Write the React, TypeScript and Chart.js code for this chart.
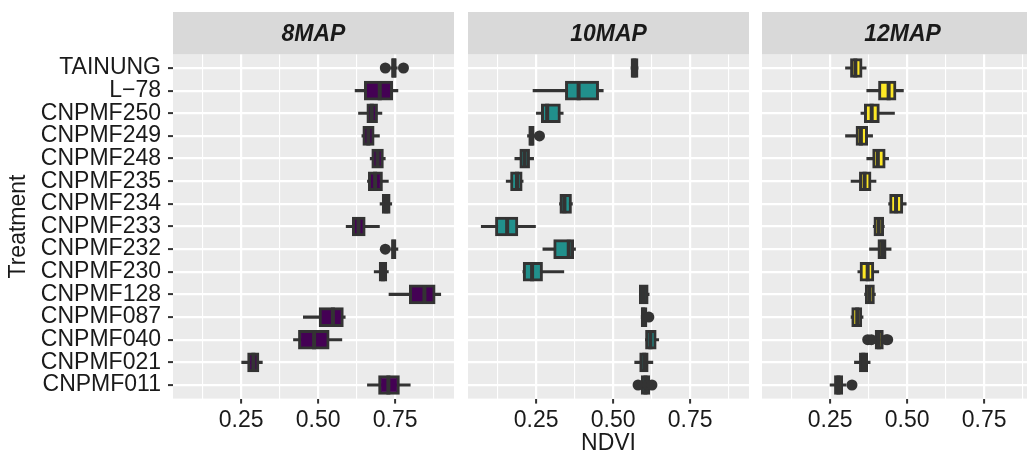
import React, { useEffect, useRef } from "react";
import { Chart, registerables } from "chart.js";

Chart.register(...registerables);
Chart.defaults.font.family = '"Liberation Sans", Arial, Helvetica, sans-serif';

// ---------- DATA ----------
const treatments = [
  "TAINUNG", "L\u221278", "CNPMF250", "CNPMF249", "CNPMF248", "CNPMF235", "CNPMF234",
  "CNPMF233", "CNPMF232", "CNPMF230", "CNPMF128", "CNPMF087", "CNPMF040", "CNPMF021", "CNPMF011",
];

const panelTitles = ["8MAP", "10MAP", "12MAP"];

// [lower whisker, Q1, median, Q3, upper whisker] per treatment (same order as treatments)
const box8MAP = [
  [0.735, 0.738, 0.746, 0.754, 0.757],
  [0.620, 0.650, 0.700, 0.742, 0.759],
  [0.631, 0.658, 0.674, 0.693, 0.707],
  [0.642, 0.645, 0.663, 0.682, 0.699],
  [0.669, 0.674, 0.693, 0.712, 0.718],
  [0.660, 0.663, 0.685, 0.709, 0.728],
  [0.701, 0.708, 0.721, 0.734, 0.739],
  [0.591, 0.611, 0.631, 0.653, 0.699],
  [0.736, 0.738, 0.745, 0.753, 0.759],
  [0.682, 0.698, 0.710, 0.723, 0.728],
  [0.730, 0.796, 0.845, 0.880, 0.898],
  [0.452, 0.503, 0.548, 0.582, 0.588],
  [0.420, 0.436, 0.487, 0.536, 0.577],
  [0.252, 0.271, 0.290, 0.308, 0.319],
  [0.660, 0.696, 0.728, 0.764, 0.799],
];
const box10MAP = [
  [0.558, 0.558, 0.569, 0.581, 0.581],
  [0.240, 0.345, 0.388, 0.453, 0.468],
  [0.251, 0.267, 0.286, 0.329, 0.338],
  [0.222, 0.226, 0.235, 0.244, 0.246],
  [0.181, 0.197, 0.213, 0.229, 0.242],
  [0.153, 0.167, 0.188, 0.205, 0.208],
  [0.326, 0.327, 0.342, 0.365, 0.368],
  [0.072, 0.118, 0.156, 0.191, 0.248],
  [0.272, 0.307, 0.356, 0.372, 0.378],
  [0.207, 0.208, 0.237, 0.271, 0.340],
  [0.585, 0.585, 0.600, 0.614, 0.617],
  [0.591, 0.591, 0.598, 0.610, 0.610],
  [0.605, 0.605, 0.621, 0.640, 0.648],
  [0.570, 0.586, 0.601, 0.614, 0.629],
  [0.589, 0.591, 0.605, 0.619, 0.621],
];
const box12MAP = [
  [0.300, 0.316, 0.332, 0.354, 0.367],
  [0.369, 0.407, 0.440, 0.464, 0.488],
  [0.350, 0.361, 0.385, 0.410, 0.459],
  [0.300, 0.334, 0.350, 0.372, 0.388],
  [0.369, 0.388, 0.405, 0.429, 0.440],
  [0.318, 0.345, 0.362, 0.383, 0.399],
  [0.440, 0.443, 0.464, 0.486, 0.497],
  [0.390, 0.392, 0.408, 0.424, 0.426],
  [0.378, 0.405, 0.419, 0.432, 0.448],
  [0.340, 0.347, 0.372, 0.392, 0.408],
  [0.362, 0.364, 0.378, 0.394, 0.397],
  [0.318, 0.320, 0.338, 0.353, 0.357],
  [0.394, 0.396, 0.408, 0.423, 0.425],
  [0.329, 0.345, 0.358, 0.372, 0.380],
  [0.250, 0.264, 0.277, 0.291, 0.302],
];

// outliers: [treatment index, NDVI]
const out8MAP = [[0, 0.718], [0, 0.777], [8, 0.718]];
const out10MAP = [[3, 0.261], [11, 0.616], [14, 0.581], [14, 0.612], [14, 0.626]];
const out12MAP = [[12, 0.372], [12, 0.384], [12, 0.432], [12, 0.437], [14, 0.321]];

const xMin = 0.029;
const xMax = 0.941;
const xTickValues = [0.125, 0.25, 0.375, 0.5, 0.625, 0.75, 0.875];
const xMajorTicks = [0.25, 0.5, 0.75];
const xTickLabels = ["0.25", "0.50", "0.75"];

const boxes = [box8MAP, box10MAP, box12MAP];
const outliers = [out8MAP, out10MAP, out12MAP];
const fills = ["#440154", "#21908C", "#FDE725"];

// ---------- LAYOUT ----------
const H = 457;
const PANEL_TOP = 54.4;
const PANEL_BOTTOM = 398.6;
const STRIP_TOP = 12;
const FONT_SIZE = 23;
const panelLayout = [
  { left: 0, width: 454, yAxis: true, xTitle: false },
  { left: 468, width: 281, yAxis: false, xTitle: true },
  { left: 762, width: 281, yAxis: false, xTitle: false },
];

const TEXT = "#1A1A1A";
const DARK = "#333333";

const isMajor = (v: number) => xMajorTicks.some((m) => Math.abs(m - v) < 1e-6);

const panelPlugin = {
  id: "panelBg",
  beforeDraw(chart: any, _args: any, opts: any) {
    const { ctx, chartArea: a } = chart;
    ctx.save();
    ctx.fillStyle = "#EBEBEB";
    ctx.fillRect(a.left, a.top, a.right - a.left, a.bottom - a.top);
    ctx.fillStyle = "#D9D9D9";
    ctx.fillRect(a.left, STRIP_TOP, a.right - a.left, a.top - STRIP_TOP);
    ctx.fillStyle = TEXT;
    ctx.font = `italic bold ${FONT_SIZE}px "Liberation Sans", Arial, sans-serif`;
    ctx.textAlign = "center";
    ctx.textBaseline = "middle";
    ctx.fillText(opts.title, (a.left + a.right) / 2, (STRIP_TOP + a.top) / 2 + 1);
    ctx.restore();
  },
};

function Panel({ idx }: { idx: number }) {
  const ref = useRef<HTMLCanvasElement | null>(null);
  const lay = panelLayout[idx];

  useEffect(() => {
    if (!ref.current) return;
    const box = boxes[idx];
    const chart = new Chart(ref.current, {
      type: "bar",
      data: {
        datasets: [
          {
            type: "bar",
            data: box.map((b, i) => ({ x: [b[0], b[4]], y: i })) as any,
            backgroundColor: DARK,
            borderWidth: 0,
            barThickness: 2.5,
            grouped: false,
            order: 3,
          } as any,
          {
            type: "bar",
            data: box.map((b, i) => ({ x: [b[1], b[3]], y: i })) as any,
            backgroundColor: fills[idx],
            borderColor: DARK,
            borderWidth: 3,
            borderSkipped: false,
            barThickness: 19,
            grouped: false,
            order: 2,
          } as any,
          {
            type: "scatter",
            data: box.map((b, i) => ({ x: b[2], y: i })),
            pointStyle: "line",
            rotation: 90,
            radius: 9.5,
            borderColor: DARK,
            borderWidth: 4,
            order: 1,
          } as any,
          {
            type: "scatter",
            data: outliers[idx].map(([i, v]) => ({ x: v, y: i })),
            pointStyle: "circle",
            radius: 5.5,
            backgroundColor: DARK,
            borderWidth: 0,
            order: 0,
          } as any,
        ],
      },
      options: {
        indexAxis: "y",
        animation: false,
        responsive: false,
        events: [],
        layout: { autoPadding: false, padding: { top: PANEL_TOP, bottom: 0, left: 0, right: 0 } },
        plugins: {
          legend: { display: false },
          tooltip: { enabled: false },
          panelBg: { title: panelTitles[idx] },
        } as any,
        scales: {
          x: {
            type: "linear",
            position: "bottom",
            offset: false,
            min: xMin,
            max: xMax,
            afterBuildTicks: (s: any) => {
              s.ticks = xTickValues.map((v) => ({ value: v }));
            },
            afterFit: (s: any) => {
              s.height = H - PANEL_BOTTOM;
              s.paddingLeft = 0;
              s.paddingRight = 0;
            },
            ticks: {
              autoSkip: false,
              maxRotation: 0,
              minRotation: 0,
              padding: 3,
              color: TEXT,
              font: { size: FONT_SIZE },
              callback: (v: any) => {
                const k = xMajorTicks.findIndex((m) => Math.abs(m - Number(v)) < 1e-6);
                return k >= 0 ? xTickLabels[k] : "";
              },
            },
            grid: {
              offset: false,
              color: "#FFFFFF",
              lineWidth: (c: any) => (c.tick && isMajor(c.tick.value) ? 2.2 : 1.1),
              tickColor: (c: any) => (c.tick && isMajor(c.tick.value) ? DARK : "rgba(0,0,0,0)"),
              tickWidth: 2,
              tickLength: 5,
              drawTicks: true,
            },
            border: { display: false },
            title: {
              display: lay.xTitle,
              text: "NDVI",
              color: TEXT,
              font: { size: FONT_SIZE },
              padding: { top: 0, bottom: 0 },
            },
          },
          y: {
            type: "linear",
            position: "left",
            offset: false,
            reverse: true,
            min: -0.6,
            max: treatments.length - 1 + 0.6,
            afterBuildTicks: (s: any) => {
              s.ticks = treatments.map((_, i) => ({ value: i }));
            },
            afterFit: (s: any) => {
              s.width = lay.yAxis ? 173 : 0;
              s.paddingTop = 0;
              s.paddingBottom = 0;
            },
            ticks: {
              display: lay.yAxis,
              autoSkip: false,
              padding: 7,
              color: TEXT,
              font: { size: FONT_SIZE, lineHeight: 1 },
              callback: (_v: any, i: number) => treatments[i] ?? "",
            },
            grid: {
              offset: false,
              color: "#FFFFFF",
              lineWidth: 2.2,
              tickColor: DARK,
              tickWidth: 2,
              tickLength: 5,
              drawTicks: lay.yAxis,
            },
            border: { display: false },
            title: {
              display: lay.yAxis,
              text: "Treatment",
              color: TEXT,
              font: { size: FONT_SIZE },
              padding: { top: 5, bottom: 0 },
            },
          },
        },
      } as any,
      plugins: [panelPlugin as any],
    });
    return () => chart.destroy();
  }, [idx]);

  return (
    <canvas
      ref={ref}
      width={lay.width}
      height={H}
      style={{ position: "absolute", left: lay.left, top: 0, width: lay.width, height: H }}
    />
  );
}

export default function App() {
  return (
    <div
      style={{
        position: "fixed",
        left: 0,
        top: 0,
        width: 1027,
        height: H,
        overflow: "hidden",
        background: "#FFFFFF",
      }}
    >
      {panelLayout.map((_, i) => (
        <Panel key={i} idx={i} />
      ))}
    </div>
  );
}
